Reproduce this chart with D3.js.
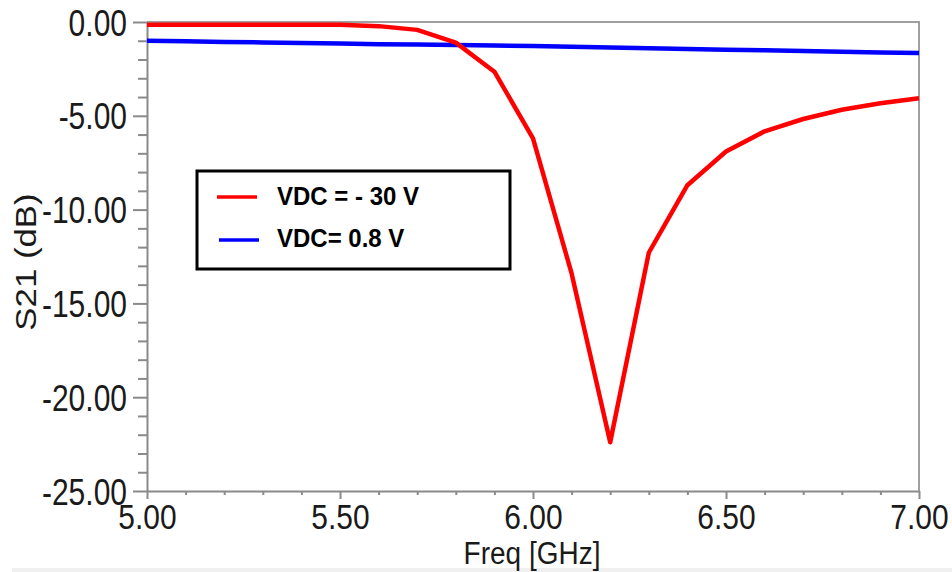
<!DOCTYPE html>
<html>
<head>
<meta charset="utf-8">
<script src="https://cdn.jsdelivr.net/npm/d3@7"></script>
<style>
  html, body { margin: 0; padding: 0; background: #fff; }
  svg { display: block; }
  text { font-family: "Liberation Sans", Arial, sans-serif; }
</style>
</head>
<body>
<svg id="chart" width="952" height="572"></svg>
<script>
// ---- data ----
const freq = [5.0, 5.1, 5.2, 5.3, 5.4, 5.5, 5.6, 5.7, 5.8, 5.9, 6.0, 6.1, 6.2, 6.3, 6.4, 6.5, 6.6, 6.7, 6.8, 6.9, 7.0];
const s21_m30V = [-0.14, -0.14, -0.14, -0.15, -0.15, -0.15, -0.22, -0.42, -1.1, -2.65, -6.2, -13.4, -22.4, -12.3, -8.7, -6.9, -5.83, -5.17, -4.68, -4.33, -4.06];
const s21_08V = [-1.00, -1.03, -1.06, -1.09, -1.12, -1.15, -1.18, -1.20, -1.22, -1.25, -1.28, -1.32, -1.36, -1.40, -1.44, -1.48, -1.51, -1.55, -1.58, -1.62, -1.65];
const xMajorTicks = [5.0, 5.5, 6.0, 6.5, 7.0];
const xMinorTicks = [5.1, 5.2, 5.3, 5.4, 5.6, 5.7, 5.8, 5.9, 6.1, 6.2, 6.3, 6.4, 6.6, 6.7, 6.8, 6.9];
const yMajorTicks = [0, -5, -10, -15, -20, -25];
const yMinorTicks = [-1, -2, -3, -4, -6, -7, -8, -9, -11, -12, -13, -14, -16, -17, -18, -19, -21, -22, -23, -24];
const seriesNames = ["VDC = - 30 V", "VDC= 0.8 V"];
const seriesColors = ["#ff0000", "#0000ff"];
const xTitle = "Freq [GHz]";
const yTitle = "S21 (dB)";

// ---- layout ----
const svg = d3.select("#chart");
const L = 147, R = 919, T = 22, B = 491;
const x = d3.scaleLinear().domain([5, 7]).range([L, R]);
const y = d3.scaleLinear().domain([-25, 0]).range([B, T]);
const axisColor = "#8a8a8a";
const fmt = d => d.toFixed(2);

// bottom light strip
svg.append("rect").attr("x", 12).attr("y", 568).attr("width", 940).attr("height", 4).attr("fill", "#f0f0f0");

// frame (top & right)
svg.append("path")
  .attr("d", `M${L},${T}H${R}V${B}`)
  .attr("fill", "none").attr("stroke", "#a0a0a0").attr("stroke-width", 2);

// y minor ticks
svg.append("g").attr("transform", `translate(${L},0)`).attr("color", axisColor)
  .call(d3.axisLeft(y).tickValues(yMinorTicks).tickSize(9).tickSizeOuter(0).tickFormat(""))
  .call(g => g.select(".domain").remove())
  .call(g => g.selectAll("line").attr("stroke-width", 2));

// y major axis
const yAxisG = svg.append("g").attr("transform", `translate(${L},0)`).attr("color", axisColor)
  .call(d3.axisLeft(y).tickValues(yMajorTicks).tickSize(14).tickSizeOuter(0).tickFormat(fmt));
yAxisG.select(".domain").attr("stroke-width", 2);
yAxisG.selectAll("line").attr("stroke-width", 2);
yAxisG.selectAll("text")
  .attr("x", null).attr("dy", null)
  .attr("fill", "#1a1a1a")
  .attr("font-size", 30)
  .attr("text-anchor", "end")
  .attr("transform", "translate(-20,13) scale(1,1.2)");

// x minor ticks
svg.append("g").attr("transform", `translate(0,${B})`).attr("color", axisColor)
  .call(d3.axisBottom(x).tickValues(xMinorTicks).tickSize(4).tickSizeOuter(0).tickFormat(""))
  .call(g => g.select(".domain").remove())
  .call(g => g.selectAll("line").attr("stroke-width", 2));

// x major axis
const xAxisG = svg.append("g").attr("transform", `translate(0,${B})`).attr("color", axisColor)
  .call(d3.axisBottom(x).tickValues(xMajorTicks).tickSize(8).tickSizeOuter(0).tickFormat(fmt));
xAxisG.select(".domain").attr("stroke-width", 2);
xAxisG.selectAll("line").attr("stroke-width", 2);
xAxisG.selectAll("text")
  .attr("y", null).attr("dy", null)
  .attr("fill", "#1a1a1a")
  .attr("font-size", 30)
  .attr("text-anchor", "middle")
  .attr("transform", "translate(0,38) scale(1,1.15)");

// axis titles
svg.append("text")
  .attr("transform", "translate(36,262) rotate(-90) scale(1.2,1)")
  .attr("text-anchor", "middle")
  .attr("font-size", 29)
  .attr("fill", "#1a1a1a")
  .text(yTitle);

svg.append("text")
  .attr("transform", "translate(532,564) scale(1,1.1)")
  .attr("text-anchor", "middle")
  .attr("font-size", 28)
  .attr("fill", "#1a1a1a")
  .text(xTitle);

// lines
const allSeries = [s21_m30V, s21_08V];
const line = d3.line().x(d => x(d[0])).y(d => y(d[1]));
[1, 0].forEach(i => {
  svg.append("path")
    .datum(freq.map((f, k) => [f, allSeries[i][k]]))
    .attr("fill", "none")
    .attr("stroke", seriesColors[i])
    .attr("stroke-width", 4.5)
    .attr("stroke-linejoin", "round")
    .attr("d", line);
});

// legend
const lg = svg.append("g");
lg.append("rect")
  .attr("x", 197).attr("y", 171).attr("width", 313).attr("height", 98)
  .attr("fill", "#fff").attr("stroke", "#000").attr("stroke-width", 3);
const legY = [197, 240], legTextY = [205, 247], legX0 = [217, 219];
seriesNames.forEach((name, i) => {
  lg.append("line")
    .attr("x1", legX0[i]).attr("x2", legX0[i] + 40)
    .attr("y1", legY[i]).attr("y2", legY[i])
    .attr("stroke", seriesColors[i]).attr("stroke-width", 3.5);
  lg.append("text")
    .attr("transform", `translate(277,${legTextY[i]}) scale(1,1.1)`)
    .attr("font-size", 24)
    .attr("font-weight", "bold")
    .attr("fill", "#000")
    .text(name);
});
</script>
</body>
</html>
